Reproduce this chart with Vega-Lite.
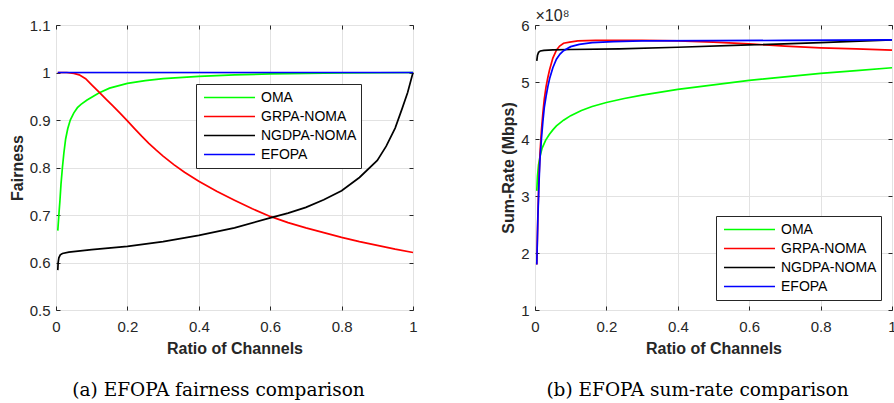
{
  "$schema": "https://vega.github.io/schema/vega-lite/v6.json",
  "padding": {"left": 8, "top": 7, "right": 0, "bottom": 0},
  "config": {
    "font": "Liberation Sans",
    "view": {"stroke": "#262626", "strokeWidth": 1},
    "axis": {
      "labelFont": "Liberation Sans", "labelFontSize": 15, "labelColor": "#262626",
      "titleFont": "Liberation Sans", "titleFontSize": 16, "titleFontWeight": "bold", "titleColor": "#262626",
      "tickColor": "#262626", "tickSize": -4, "domain": false,
      "gridColor": "#e2e2e2", "gridWidth": 1, "labelFlush": false
    },
    "legend": {
      "orient": "none", "title": null, "symbolType": "stroke", "symbolSize": 2600, "symbolStrokeWidth": 1.7,
      "labelFontSize": 14, "labelFont": "Liberation Sans", "labelColor": "#000000",
      "fillColor": "#ffffff", "strokeColor": "#262626", "padding": 4, "symbolOffset": 3,
      "labelOffset": 5, "clipHeight": 19, "rowPadding": 0
    }
  },
  "datasets": {
    "fair": [
      {"s": "EFOPA", "x": 0.005, "v": 1.0}, {"s": "EFOPA", "x": 0.5, "v": 1.0}, {"s": "EFOPA", "x": 1.0, "v": 1.0},
      {"s": "OMA", "x": 0.005, "v": 0.667}, {"s": "OMA", "x": 0.008, "v": 0.70}, {"s": "OMA", "x": 0.011, "v": 0.73},
      {"s": "OMA", "x": 0.014, "v": 0.765}, {"s": "OMA", "x": 0.018, "v": 0.80}, {"s": "OMA", "x": 0.022, "v": 0.83},
      {"s": "OMA", "x": 0.027, "v": 0.86}, {"s": "OMA", "x": 0.033, "v": 0.882}, {"s": "OMA", "x": 0.04, "v": 0.90},
      {"s": "OMA", "x": 0.05, "v": 0.915}, {"s": "OMA", "x": 0.06, "v": 0.926}, {"s": "OMA", "x": 0.07, "v": 0.933},
      {"s": "OMA", "x": 0.087, "v": 0.942}, {"s": "OMA", "x": 0.1, "v": 0.948}, {"s": "OMA", "x": 0.12, "v": 0.957},
      {"s": "OMA", "x": 0.15, "v": 0.967}, {"s": "OMA", "x": 0.2, "v": 0.977}, {"s": "OMA", "x": 0.25, "v": 0.983},
      {"s": "OMA", "x": 0.3, "v": 0.987}, {"s": "OMA", "x": 0.4, "v": 0.992}, {"s": "OMA", "x": 0.5, "v": 0.995},
      {"s": "OMA", "x": 0.6, "v": 0.997}, {"s": "OMA", "x": 0.7, "v": 0.998}, {"s": "OMA", "x": 0.8, "v": 0.999},
      {"s": "OMA", "x": 1.0, "v": 1.0},
      {"s": "GRPA-NOMA", "x": 0.005, "v": 1.0}, {"s": "GRPA-NOMA", "x": 0.03, "v": 1.0}, {"s": "GRPA-NOMA", "x": 0.05, "v": 0.998},
      {"s": "GRPA-NOMA", "x": 0.065, "v": 0.995}, {"s": "GRPA-NOMA", "x": 0.083, "v": 0.987}, {"s": "GRPA-NOMA", "x": 0.1, "v": 0.974},
      {"s": "GRPA-NOMA", "x": 0.12, "v": 0.959}, {"s": "GRPA-NOMA", "x": 0.14, "v": 0.944}, {"s": "GRPA-NOMA", "x": 0.16, "v": 0.929},
      {"s": "GRPA-NOMA", "x": 0.18, "v": 0.914}, {"s": "GRPA-NOMA", "x": 0.2, "v": 0.898}, {"s": "GRPA-NOMA", "x": 0.22, "v": 0.882},
      {"s": "GRPA-NOMA", "x": 0.24, "v": 0.866}, {"s": "GRPA-NOMA", "x": 0.26, "v": 0.851}, {"s": "GRPA-NOMA", "x": 0.28, "v": 0.837},
      {"s": "GRPA-NOMA", "x": 0.3, "v": 0.824}, {"s": "GRPA-NOMA", "x": 0.33, "v": 0.806}, {"s": "GRPA-NOMA", "x": 0.36, "v": 0.79},
      {"s": "GRPA-NOMA", "x": 0.4, "v": 0.771}, {"s": "GRPA-NOMA", "x": 0.45, "v": 0.75}, {"s": "GRPA-NOMA", "x": 0.5, "v": 0.731},
      {"s": "GRPA-NOMA", "x": 0.55, "v": 0.713}, {"s": "GRPA-NOMA", "x": 0.6, "v": 0.697}, {"s": "GRPA-NOMA", "x": 0.65, "v": 0.684},
      {"s": "GRPA-NOMA", "x": 0.7, "v": 0.673}, {"s": "GRPA-NOMA", "x": 0.75, "v": 0.663}, {"s": "GRPA-NOMA", "x": 0.8, "v": 0.653},
      {"s": "GRPA-NOMA", "x": 0.85, "v": 0.644}, {"s": "GRPA-NOMA", "x": 0.9, "v": 0.636}, {"s": "GRPA-NOMA", "x": 0.95, "v": 0.628},
      {"s": "GRPA-NOMA", "x": 1.0, "v": 0.621},
      {"s": "NGDPA-NOMA", "x": 0.005, "v": 0.584}, {"s": "NGDPA-NOMA", "x": 0.006, "v": 0.60}, {"s": "NGDPA-NOMA", "x": 0.008, "v": 0.61},
      {"s": "NGDPA-NOMA", "x": 0.012, "v": 0.616}, {"s": "NGDPA-NOMA", "x": 0.018, "v": 0.619}, {"s": "NGDPA-NOMA", "x": 0.036, "v": 0.622},
      {"s": "NGDPA-NOMA", "x": 0.1, "v": 0.627}, {"s": "NGDPA-NOMA", "x": 0.2, "v": 0.634}, {"s": "NGDPA-NOMA", "x": 0.3, "v": 0.644},
      {"s": "NGDPA-NOMA", "x": 0.4, "v": 0.657}, {"s": "NGDPA-NOMA", "x": 0.5, "v": 0.673}, {"s": "NGDPA-NOMA", "x": 0.6, "v": 0.694},
      {"s": "NGDPA-NOMA", "x": 0.65, "v": 0.704}, {"s": "NGDPA-NOMA", "x": 0.7, "v": 0.716}, {"s": "NGDPA-NOMA", "x": 0.75, "v": 0.732},
      {"s": "NGDPA-NOMA", "x": 0.8, "v": 0.751}, {"s": "NGDPA-NOMA", "x": 0.85, "v": 0.779}, {"s": "NGDPA-NOMA", "x": 0.9, "v": 0.815},
      {"s": "NGDPA-NOMA", "x": 0.925, "v": 0.845}, {"s": "NGDPA-NOMA", "x": 0.95, "v": 0.883}, {"s": "NGDPA-NOMA", "x": 0.97, "v": 0.925},
      {"s": "NGDPA-NOMA", "x": 0.985, "v": 0.958}, {"s": "NGDPA-NOMA", "x": 1.0, "v": 1.0}
    ],
    "rate": [
      {"s": "OMA", "x": 0.005, "v": 3.09}, {"s": "OMA", "x": 0.007, "v": 3.35}, {"s": "OMA", "x": 0.01, "v": 3.55},
      {"s": "OMA", "x": 0.015, "v": 3.72}, {"s": "OMA", "x": 0.02, "v": 3.84}, {"s": "OMA", "x": 0.03, "v": 3.98},
      {"s": "OMA", "x": 0.04, "v": 4.08}, {"s": "OMA", "x": 0.05, "v": 4.16}, {"s": "OMA", "x": 0.06, "v": 4.23},
      {"s": "OMA", "x": 0.08, "v": 4.33}, {"s": "OMA", "x": 0.1, "v": 4.41}, {"s": "OMA", "x": 0.13, "v": 4.50},
      {"s": "OMA", "x": 0.16, "v": 4.57}, {"s": "OMA", "x": 0.2, "v": 4.64}, {"s": "OMA", "x": 0.25, "v": 4.71},
      {"s": "OMA", "x": 0.3, "v": 4.77}, {"s": "OMA", "x": 0.4, "v": 4.87}, {"s": "OMA", "x": 0.5, "v": 4.95},
      {"s": "OMA", "x": 0.6, "v": 5.03}, {"s": "OMA", "x": 0.7, "v": 5.09}, {"s": "OMA", "x": 0.8, "v": 5.15},
      {"s": "OMA", "x": 0.9, "v": 5.20}, {"s": "OMA", "x": 1.0, "v": 5.25},
      {"s": "GRPA-NOMA", "x": 0.005, "v": 1.8}, {"s": "GRPA-NOMA", "x": 0.008, "v": 2.65}, {"s": "GRPA-NOMA", "x": 0.011, "v": 3.3},
      {"s": "GRPA-NOMA", "x": 0.014, "v": 3.75}, {"s": "GRPA-NOMA", "x": 0.018, "v": 4.15}, {"s": "GRPA-NOMA", "x": 0.022, "v": 4.45},
      {"s": "GRPA-NOMA", "x": 0.026, "v": 4.7}, {"s": "GRPA-NOMA", "x": 0.031, "v": 4.92}, {"s": "GRPA-NOMA", "x": 0.036, "v": 5.08},
      {"s": "GRPA-NOMA", "x": 0.041, "v": 5.22}, {"s": "GRPA-NOMA", "x": 0.05, "v": 5.42}, {"s": "GRPA-NOMA", "x": 0.06, "v": 5.56},
      {"s": "GRPA-NOMA", "x": 0.069, "v": 5.63}, {"s": "GRPA-NOMA", "x": 0.08, "v": 5.68}, {"s": "GRPA-NOMA", "x": 0.097, "v": 5.70},
      {"s": "GRPA-NOMA", "x": 0.12, "v": 5.72}, {"s": "GRPA-NOMA", "x": 0.17, "v": 5.73}, {"s": "GRPA-NOMA", "x": 0.3, "v": 5.73},
      {"s": "GRPA-NOMA", "x": 0.4, "v": 5.72}, {"s": "GRPA-NOMA", "x": 0.5, "v": 5.70}, {"s": "GRPA-NOMA", "x": 0.6, "v": 5.67},
      {"s": "GRPA-NOMA", "x": 0.7, "v": 5.63}, {"s": "GRPA-NOMA", "x": 0.8, "v": 5.60}, {"s": "GRPA-NOMA", "x": 0.9, "v": 5.58},
      {"s": "GRPA-NOMA", "x": 1.0, "v": 5.56},
      {"s": "NGDPA-NOMA", "x": 0.005, "v": 5.37}, {"s": "NGDPA-NOMA", "x": 0.007, "v": 5.47}, {"s": "NGDPA-NOMA", "x": 0.01, "v": 5.52},
      {"s": "NGDPA-NOMA", "x": 0.015, "v": 5.545}, {"s": "NGDPA-NOMA", "x": 0.025, "v": 5.555}, {"s": "NGDPA-NOMA", "x": 0.05, "v": 5.565},
      {"s": "NGDPA-NOMA", "x": 0.1, "v": 5.57}, {"s": "NGDPA-NOMA", "x": 0.236, "v": 5.58}, {"s": "NGDPA-NOMA", "x": 0.4, "v": 5.61},
      {"s": "NGDPA-NOMA", "x": 0.6, "v": 5.65}, {"s": "NGDPA-NOMA", "x": 0.8, "v": 5.69}, {"s": "NGDPA-NOMA", "x": 1.0, "v": 5.74},
      {"s": "EFOPA", "x": 0.005, "v": 1.8}, {"s": "EFOPA", "x": 0.008, "v": 2.6}, {"s": "EFOPA", "x": 0.011, "v": 3.2},
      {"s": "EFOPA", "x": 0.014, "v": 3.65}, {"s": "EFOPA", "x": 0.018, "v": 4.0}, {"s": "EFOPA", "x": 0.022, "v": 4.3},
      {"s": "EFOPA", "x": 0.026, "v": 4.55}, {"s": "EFOPA", "x": 0.031, "v": 4.75}, {"s": "EFOPA", "x": 0.036, "v": 4.92},
      {"s": "EFOPA", "x": 0.041, "v": 5.06}, {"s": "EFOPA", "x": 0.05, "v": 5.25}, {"s": "EFOPA", "x": 0.06, "v": 5.40},
      {"s": "EFOPA", "x": 0.07, "v": 5.49}, {"s": "EFOPA", "x": 0.08, "v": 5.55}, {"s": "EFOPA", "x": 0.1, "v": 5.62},
      {"s": "EFOPA", "x": 0.124, "v": 5.66}, {"s": "EFOPA", "x": 0.16, "v": 5.69}, {"s": "EFOPA", "x": 0.22, "v": 5.71},
      {"s": "EFOPA", "x": 0.3, "v": 5.72}, {"s": "EFOPA", "x": 0.5, "v": 5.725}, {"s": "EFOPA", "x": 0.7, "v": 5.73},
      {"s": "EFOPA", "x": 1.0, "v": 5.74}
    ]
  },
  "hconcat": [
    {
      "width": 357, "height": 285,
      "title": {"text": "(a) EFOPA fairness comparison", "orient": "bottom", "font": "DejaVu Serif", "fontSize": 18.5, "fontWeight": "normal", "color": "#000000", "offset": 25, "dx": -16},
      "layer": [
        {
          "data": {"name": "fair"},
          "transform": [{"filter": "datum.s !== 'EFOPA'"}],
          "mark": {"type": "line", "strokeWidth": 1.7},
          "encoding": {
            "x": {"field": "x", "type": "quantitative", "scale": {"domain": [0, 1], "nice": false, "zero": false},
                  "axis": {"orient": "bottom", "values": [0, 0.2, 0.4, 0.6, 0.8, 1], "format": "~g", "title": "Ratio of Channels", "labelPadding": 13, "titlePadding": 6, "grid": true}},
            "y": {"field": "v", "type": "quantitative", "scale": {"domain": [0.5, 1.1], "nice": false, "zero": false},
                  "axis": {"orient": "left", "values": [0.5, 0.6, 0.7, 0.8, 0.9, 1, 1.1], "format": "~g", "title": "Fairness", "labelPadding": 10, "titlePadding": 5, "minExtent": 26, "maxExtent": 26, "grid": true}},
            "color": {"field": "s", "type": "nominal",
                      "scale": {"domain": ["OMA", "GRPA-NOMA", "NGDPA-NOMA", "EFOPA"], "range": ["#00ff00", "#ff0000", "#000000", "#0000ff"]},
                      "legend": {"legendX": 140, "legendY": 59}}
          }
        },
        {
          "data": {"name": "fair"},
          "transform": [{"filter": "datum.s === 'EFOPA'"}],
          "mark": {"type": "line", "strokeWidth": 1.7},
          "encoding": {
            "x": {"field": "x", "type": "quantitative", "scale": {"domain": [0, 1], "nice": false, "zero": false},
                  "axis": {"orient": "top", "values": [0, 0.2, 0.4, 0.6, 0.8, 1], "labels": false, "title": null, "grid": false}},
            "y": {"field": "v", "type": "quantitative", "scale": {"domain": [0.5, 1.1], "nice": false, "zero": false},
                  "axis": {"orient": "right", "values": [0.5, 0.6, 0.7, 0.8, 0.9, 1, 1.1], "labels": false, "title": null, "grid": false}},
            "color": {"field": "s", "type": "nominal",
                      "scale": {"domain": ["OMA", "GRPA-NOMA", "NGDPA-NOMA", "EFOPA"], "range": ["#00ff00", "#ff0000", "#000000", "#0000ff"]},
                      "legend": {"legendX": 140, "legendY": 59}}
          }
        }
      ],
      "resolve": {"axis": {"x": "independent", "y": "independent"}}
    },
    {
      "width": 357, "height": 285,
      "title": {"text": "(b) EFOPA sum-rate comparison", "orient": "bottom", "font": "DejaVu Serif", "fontSize": 18.5, "fontWeight": "normal", "color": "#000000", "offset": 25, "dx": -16},
      "layer": [
        {
          "data": {"name": "rate"},
          "transform": [{"filter": "datum.s !== 'EFOPA'"}],
          "mark": {"type": "line", "strokeWidth": 1.7},
          "encoding": {
            "x": {"field": "x", "type": "quantitative", "scale": {"domain": [0, 1], "nice": false, "zero": false},
                  "axis": {"orient": "bottom", "values": [0, 0.2, 0.4, 0.6, 0.8, 1], "format": "~g", "title": "Ratio of Channels", "labelPadding": 13, "titlePadding": 6, "grid": true}},
            "y": {"field": "v", "type": "quantitative", "scale": {"domain": [1, 6], "nice": false, "zero": false},
                  "axis": {"orient": "left", "values": [1, 2, 3, 4, 5, 6], "format": "d", "title": "Sum-Rate (Mbps)", "labelPadding": 10, "titlePadding": 5, "minExtent": 14, "maxExtent": 14, "grid": true}},
            "color": {"field": "s", "type": "nominal",
                      "scale": {"domain": ["OMA", "GRPA-NOMA", "NGDPA-NOMA", "EFOPA"], "range": ["#00ff00", "#ff0000", "#000000", "#0000ff"]},
                      "legend": {"legendX": 181, "legendY": 191}}
          }
        },
        {
          "data": {"name": "rate"},
          "transform": [{"filter": "datum.s === 'EFOPA'"}],
          "mark": {"type": "line", "strokeWidth": 1.7},
          "encoding": {
            "x": {"field": "x", "type": "quantitative", "scale": {"domain": [0, 1], "nice": false, "zero": false},
                  "axis": {"orient": "top", "values": [0, 0.2, 0.4, 0.6, 0.8, 1], "labels": false, "title": "×10⁸", "titleFontWeight": "normal", "titleFontSize": 16, "titleAnchor": "start", "titleAlign": "left", "titlePadding": 1, "grid": false}},
            "y": {"field": "v", "type": "quantitative", "scale": {"domain": [1, 6], "nice": false, "zero": false},
                  "axis": {"orient": "right", "values": [1, 2, 3, 4, 5, 6], "labels": false, "title": null, "grid": false}},
            "color": {"field": "s", "type": "nominal",
                      "scale": {"domain": ["OMA", "GRPA-NOMA", "NGDPA-NOMA", "EFOPA"], "range": ["#00ff00", "#ff0000", "#000000", "#0000ff"]},
                      "legend": {"legendX": 181, "legendY": 191}}
          }
        }
      ],
      "resolve": {"axis": {"x": "independent", "y": "independent"}}
    }
  ],
  "spacing": 122,
  "bounds": "flush",
  "resolve": {"scale": {"color": "independent"}, "legend": {"color": "independent"}}
}
